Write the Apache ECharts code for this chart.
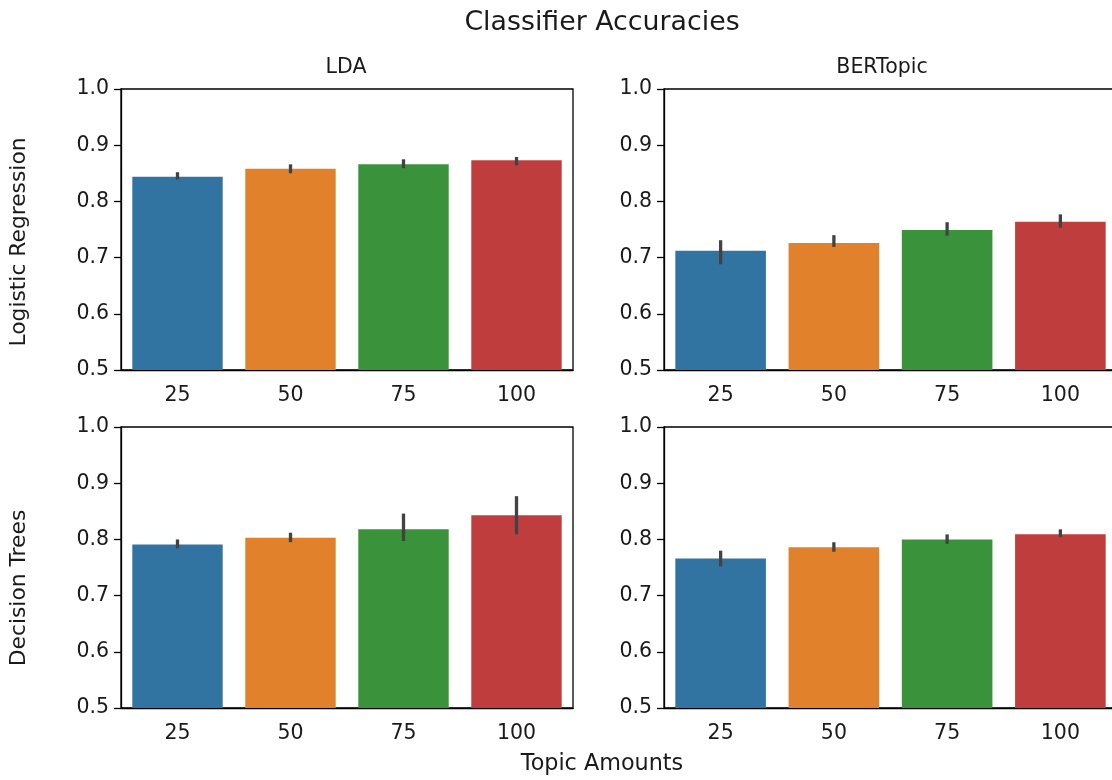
<!DOCTYPE html>
<html>
<head>
<meta charset="utf-8">
<script src="https://cdn.jsdelivr.net/npm/echarts@6/dist/echarts.min.js"></script>
<style>
  html, body { margin: 0; padding: 0; background: #fff; overflow: hidden; }
  #show { width: 1112px; height: 780px; }
</style>
</head>
<body>
<div id="show"></div>
<script>
var myChart = echarts.init(document.getElementById("show"));

// topic amounts on the x axis
var topics = ['25', '50', '75', '100'];
var barColors = ['#3274a1', '#e1812c', '#3a923a', '#c03d3e'];

// mean accuracies, one list per panel
var ldaLogReg = [0.844, 0.858, 0.866, 0.873];
var bertLogReg = [0.712, 0.726, 0.749, 0.764];
var ldaTrees = [0.791, 0.803, 0.818, 0.843];
var bertTrees = [0.766, 0.786, 0.800, 0.809];

// error bar ends (low / high)
var ldaLogRegLo = [0.842, 0.853, 0.862, 0.867];
var ldaLogRegHi = [0.849, 0.863, 0.872, 0.876];
var bertLogRegLo = [0.691, 0.722, 0.742, 0.756];
var bertLogRegHi = [0.728, 0.737, 0.760, 0.774];
var ldaTreesLo = [0.787, 0.798, 0.800, 0.812];
var ldaTreesHi = [0.797, 0.809, 0.843, 0.874];
var bertTreesLo = [0.755, 0.781, 0.795, 0.807];
var bertTreesHi = [0.777, 0.792, 0.806, 0.815];

var font = 'DejaVu Sans';
var ink = '#1a1a1a';

var panels = [
    {left: 121, top: 89, means: ldaLogReg, lo: ldaLogRegLo, hi: ldaLogRegHi},
    {left: 664, top: 89, means: bertLogReg, lo: bertLogRegLo, hi: bertLogRegHi},
    {left: 121, top: 427, means: ldaTrees, lo: ldaTreesLo, hi: ldaTreesHi},
    {left: 664, top: 427, means: bertTrees, lo: bertTreesLo, hi: bertTreesHi}
];

var grids = [], xAxes = [], yAxes = [], series = [];

panels.forEach(function (p, k) {
    grids.push({
        left: p.left, top: p.top, width: k % 2 ? 453 : 452, height: 281,
        outerBoundsMode: 'none', containLabel: false,
        show: true, borderColor: '#000', borderWidth: 1.3, backgroundColor: '#fff'
    });
    xAxes.push({
        type: 'category', gridIndex: k, data: topics,
        axisLine: {lineStyle: {color: '#000', width: 1.3}},
        axisTick: {alignWithLabel: true, length: 7, lineStyle: {color: '#000', width: 1.3}},
        axisLabel: {color: ink, fontFamily: font, fontSize: 20.5, margin: 15}
    });
    yAxes.push({
        type: 'value', gridIndex: k, min: 0.5, max: 1.0, interval: 0.1,
        splitLine: {show: false},
        axisLine: {show: true, lineStyle: {color: '#000', width: 1.3}},
        axisTick: {show: true, length: 7, lineStyle: {color: '#000', width: 1.3}},
        axisLabel: {
            color: ink, fontFamily: font, fontSize: 20.5, margin: 12,
            formatter: function (v) { return v.toFixed(1); }
        }
    });
    series.push({
        type: 'bar', xAxisIndex: k, yAxisIndex: k,
        barCategoryGap: '20%',
        data: p.means.map(function (v, i) {
            return {value: v, itemStyle: {color: barColors[i]}};
        }),
        silent: true
    });
    series.push({
        type: 'custom', xAxisIndex: k, yAxisIndex: k,
        data: p.lo.map(function (v, i) { return [i, v, p.hi[i]]; }),
        renderItem: function (params, api) {
            var a = api.coord([api.value(0), api.value(1)]);
            var b = api.coord([api.value(0), api.value(2)]);
            return {
                type: 'line',
                shape: {x1: a[0], y1: a[1], x2: b[0], y2: b[1]},
                style: {stroke: '#424242', lineWidth: 3.3, lineCap: 'square'}
            };
        },
        z: 5,
        silent: true
    });
});

myChart.setOption(option = {
    animation: false,
    title: [
        {text: 'Classifier Accuracies', left: 597, top: 5, textAlign: 'center',
         textStyle: {fontFamily: font, fontSize: 26.8, fontWeight: 'normal', color: ink}},
        {text: 'LDA', left: 341, top: 52, textAlign: 'center',
         textStyle: {fontFamily: font, fontSize: 20.5, fontWeight: 'normal', color: ink}},
        {text: 'BERTopic', left: 877, top: 52, textAlign: 'center',
         textStyle: {fontFamily: font, fontSize: 20.5, fontWeight: 'normal', color: ink}},
        {text: 'Topic Amounts', left: 597, top: 748, textAlign: 'center',
         textStyle: {fontFamily: font, fontSize: 22.3, fontWeight: 'normal', color: ink}}
    ],
    graphic: [
        {type: 'text', x: 19, y: 242, rotation: Math.PI / 2,
         style: {text: 'Logistic Regression', font: '21.8px "DejaVu Sans"', fill: ink,
                 textAlign: 'center', textVerticalAlign: 'middle'}},
        {type: 'text', x: 19, y: 588, rotation: Math.PI / 2,
         style: {text: 'Decision Trees', font: '21.8px "DejaVu Sans"', fill: ink,
                 textAlign: 'center', textVerticalAlign: 'middle'}}
    ],
    grid: grids,
    xAxis: xAxes,
    yAxis: yAxes,
    series: series
});
</script>
</body>
</html>
